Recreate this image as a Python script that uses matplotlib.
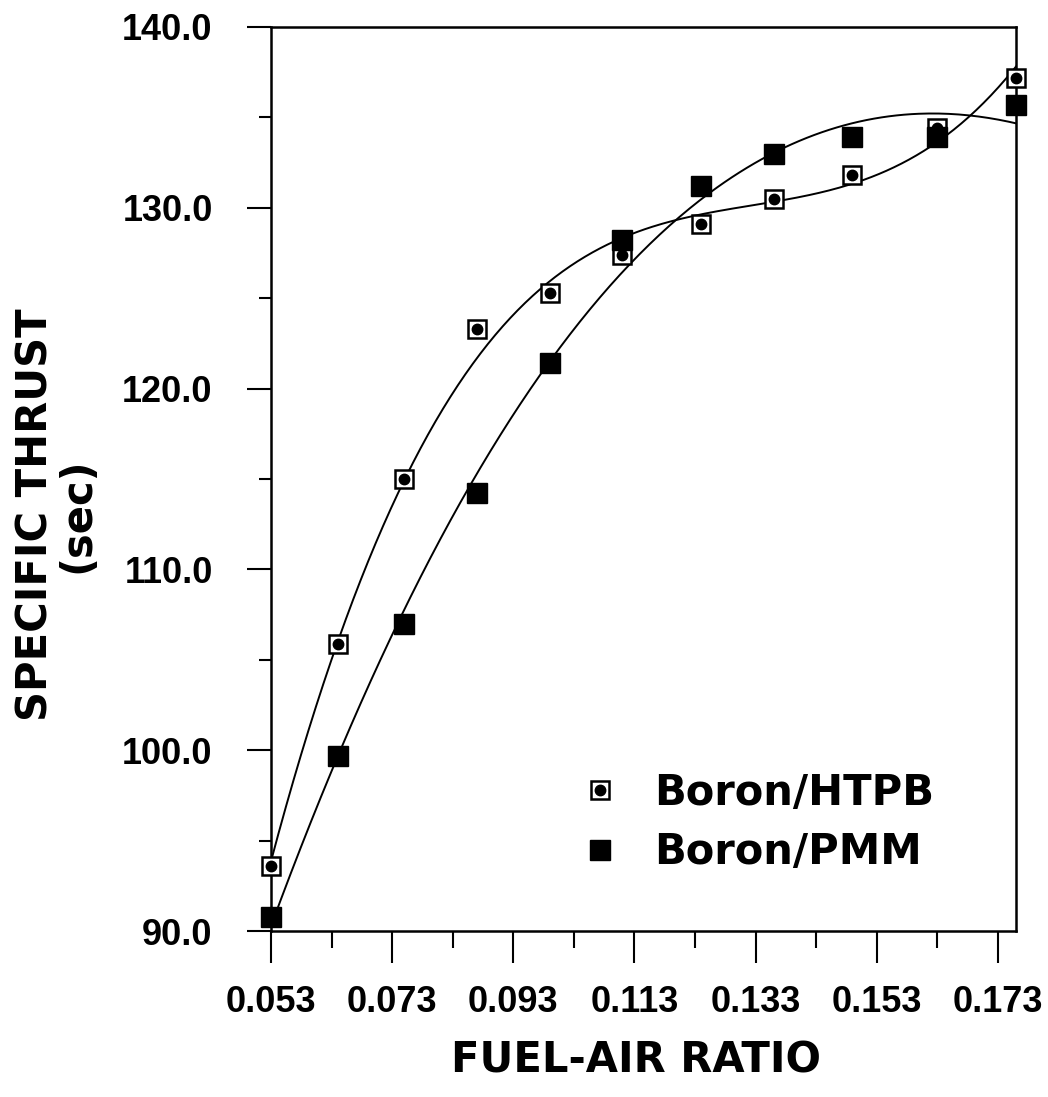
import numpy as np
import matplotlib
matplotlib.use("Agg")
import matplotlib.pyplot as plt
from matplotlib.ticker import FixedLocator, FormatStrFormatter

plt.rcParams['font.family'] = ['Liberation Sans', 'DejaVu Sans']
plt.rcParams['font.weight'] = 'bold'

# data
fuel_air = [0.053, 0.064, 0.075, 0.087, 0.099, 0.111, 0.124, 0.136, 0.149, 0.163, 0.176]
htpb = [93.6, 105.9, 115.0, 123.3, 125.3, 127.4, 129.1, 130.5, 131.8, 134.4, 137.2]
pmm = [90.8, 99.7, 107.0, 114.2, 121.4, 128.2, 131.2, 133.0, 133.9, 133.9, 135.7]

x_major = [0.053, 0.073, 0.093, 0.113, 0.133, 0.153, 0.173]
x_minor = [0.063, 0.083, 0.103, 0.123, 0.143, 0.163]
y_major = [90, 100, 110, 120, 130, 140]
y_minor = [95, 105, 115, 125, 135]

fig = plt.figure(figsize=(10.48, 10.97), dpi=100)
ax = fig.add_axes([0.2586, 0.1513, 0.7109, 0.8241])

# cubic fit lines
xs = np.linspace(fuel_air[0], fuel_air[-1], 300)
fit_htpb = np.polyval(np.polyfit(fuel_air, htpb, 3), xs)
fit_pmm = np.polyval(np.polyfit(fuel_air, pmm, 3), xs)
ax.plot(xs, fit_htpb, color='black', lw=1.4, zorder=2)
ax.plot(xs, fit_pmm, color='black', lw=1.4, zorder=2)

# markers
sq, = ax.plot(fuel_air, htpb, ls='none', marker='s', ms=13, mfc='white', mec='black', mew=1.8, zorder=3, clip_on=False)
dot, = ax.plot(fuel_air, htpb, ls='none', marker='o', ms=7.5, mfc='black', mec='black', zorder=4, clip_on=False)
fill, = ax.plot(fuel_air, pmm, ls='none', marker='s', ms=14, mfc='black', mec='black', zorder=5, clip_on=False)

ax.set_xlim(0.053, 0.176)
ax.set_ylim(90, 140)

ax.xaxis.set_major_locator(FixedLocator(x_major))
ax.xaxis.set_minor_locator(FixedLocator(x_minor))
ax.yaxis.set_major_locator(FixedLocator(y_major))
ax.yaxis.set_minor_locator(FixedLocator(y_minor))
ax.xaxis.set_major_formatter(FormatStrFormatter('%.3f'))
ax.yaxis.set_major_formatter(FormatStrFormatter('%.1f'))

ax.tick_params(axis='x', which='major', direction='out', length=23, width=1.5, pad=16, labelsize=26)
ax.tick_params(axis='x', which='minor', direction='out', length=12, width=1.5)
ax.tick_params(axis='y', which='major', direction='out', length=17, width=1.5, pad=25, labelsize=26)
ax.tick_params(axis='y', which='minor', direction='out', length=9, width=1.5)
for s in ax.spines.values():
    s.set_linewidth(1.8)

lab_font = ['DejaVu Sans']
ax.set_xlabel('FUEL-AIR RATIO', fontsize=30, fontweight='bold', family=lab_font)
ax.set_ylabel('SPECIFIC THRUST\n(sec)', fontsize=30, fontweight='bold', family=lab_font,
              linespacing=1.0, multialignment='center')
ax.yaxis.set_label_coords(-0.232, 0.46)
ax.xaxis.set_label_coords(0.49, -0.12)

leg = ax.legend([(sq, dot), fill], ['Boron/HTPB', 'Boron/PMM'], loc='center left',
                bbox_to_anchor=(0.363, 0.12), frameon=False,
                prop={'family': lab_font, 'size': 30, 'weight': 'bold'},
                handletextpad=0.8, labelspacing=0.42, handlelength=1.0)

plt.savefig('out.png', dpi=100)
